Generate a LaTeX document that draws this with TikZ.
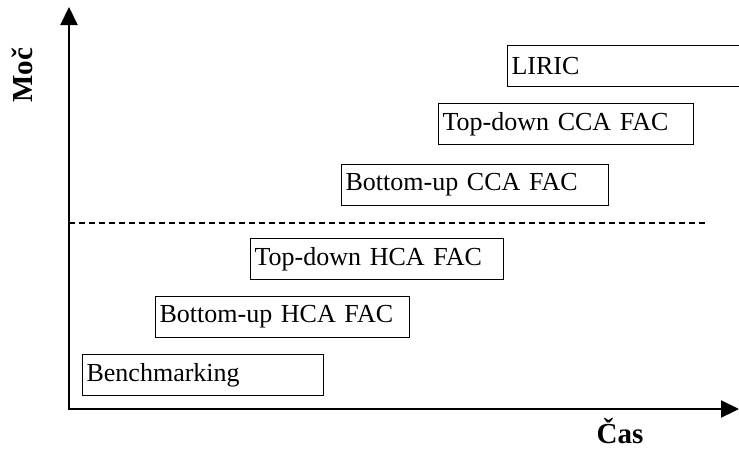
\documentclass[tikz,border=0pt]{standalone}
\usepackage{fontspec}
\setmainfont{Liberation Serif}
\usetikzlibrary{arrows.meta}

\tikzset{
  stagebox/.style={draw, line width=1.2pt, anchor=north west, minimum height=41pt,
    inner xsep=4pt, text width=#1, align=left, font=\fontsize{26}{30}\selectfont},
  axis/.style={line width=2.2pt, {Triangle[length=18pt,width=17pt]}-{Triangle[length=18pt,width=17pt]}},
  axislabel/.style={font=\fontsize{29}{34}\selectfont\bfseries, inner sep=0pt},
}

\begin{document}
\begin{tikzpicture}[x=1pt,y=-1pt]
\useasboundingbox (0,0) rectangle (739,448);
% axes
\coordinate (origin) at (69,409);
\coordinate (ytop) at (69,7);
\coordinate (xend) at (739,409);
\draw [axis] (ytop) -- (origin) -- (xend);
\node [axislabel, rotate=90, anchor=base] (moc) at (32,75) {Moč};
\node [axislabel, anchor=base] (cas) at (620,443) {Čas};
% threshold
\coordinate (dleft) at (69,223);
\coordinate (dright) at (706,223);
\draw [line width=1.5pt, dash pattern=on 6pt off 4pt] (dleft) -- (dright);
% stages
\node [stagebox=233pt] (bench) at (82,354) {Benchmarking};
\node [stagebox=246pt] (buhca) at (155,296) {Bottom-up HCA FAC};
\node [stagebox=245pt] (tdhca) at (250,238) {Top-down HCA FAC};
\node [stagebox=259pt] (bucca) at (341,164) {Bottom-up CCA FAC};
\node [stagebox=247pt] (tdcca) at (438,103) {Top-down CCA FAC};
\node [stagebox=242pt] (liric) at (507,45) {LIRIC};
\end{tikzpicture}
\end{document}
